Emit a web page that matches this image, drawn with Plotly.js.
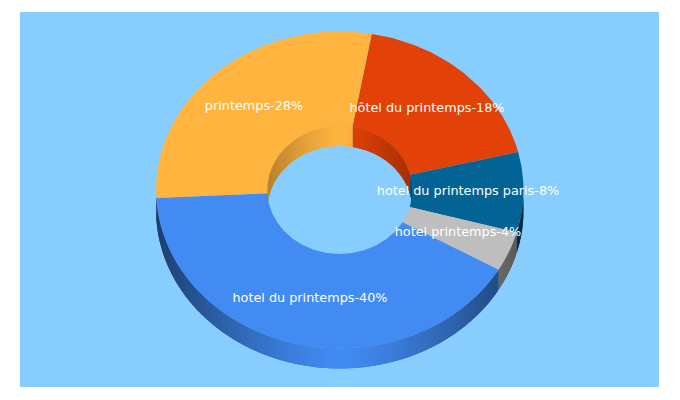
<!DOCTYPE html>
<html>
<head>
<meta charset="utf-8">
<script src="https://cdn.plot.ly/plotly-3.0.1.min.js"></script>
<style>html,body{margin:0;padding:0;background:#fff}#c{width:680px;height:400px}</style>
</head>
<body>
<div id="c"></div>
<script>
// Data
const categories = ["hôtel du printemps", "hotel du printemps paris", "hotel printemps", "hotel du printemps", "printemps"];
const shares = [18, 8, 4, 40, 28];
// Styles
const colors = ["#E24207", "#036394", "#BEBEBE", "#418BF3", "#FEB43F"];
const labelX = [427, 468, 458, 310, 254];
const labelY = [109, 192, 233, 299, 107];

// Geometry of the 3D donut in plot units (axes are 1:1 with the page)
const cx = 339.8, cy = 190, rx = 183.7, ry = 158.5, hrx = 72.5, hry = 64, depth = 20, startDeg = 10;
const total = shares.reduce((a, b) => a + b, 0);

const pt = (deg, a, b, dz) => {
  const t = deg * Math.PI / 180;
  return [cx + a * Math.sin(t), cy - b * Math.cos(t) + (dz || 0)];
};
const shade = (hex, f) => {
  const n = parseInt(hex.slice(1), 16);
  const c = [n >> 16, (n >> 8) & 255, n & 255].map(v => Math.round(v * f));
  return `rgb(${c[0]},${c[1]},${c[2]})`;
};
const poly = (pts, color) => ({
  type: "scatter", mode: "lines", x: pts.map(p => p[0]).concat(pts[0][0]), y: pts.map(p => p[1]).concat(pts[0][1]),
  fill: "toself", fillcolor: color, line: { width: 0 }, hoverinfo: "skip", showlegend: false
});

const spans = [];
let acc = startDeg;
shares.forEach((v, i) => { const d = v / total * 360; spans.push([acc, acc + d, colors[i]]); acc += d; });

const STEP = 1;
const OVERLAP = 1.5;
const inner = [], outer = [];
spans.forEach(([a0, a1, col]) => {
  for (let s = Math.floor(a0); s < a1; s += STEP) {
    const lo = Math.max(s, a0), hi = Math.min(s + STEP, a1), end = Math.min(hi + OVERLAP, a1);
    if (hi <= lo) continue;
    const mid = (lo + hi) / 2, nm = ((mid % 360) + 360) % 360;
    const u = Math.abs(Math.sin(mid * Math.PI / 180));
    if (nm < 90 || nm > 270) {
      const f = 1 - 0.28 * Math.pow(u, 1.3);
      inner.push(poly([pt(lo, hrx, hry), pt(hi, hrx, hry), pt(end, hrx, hry), pt(end, hrx, hry, depth), pt(hi, hrx, hry, depth), pt(lo, hrx, hry, depth)], shade(col, f)));
    } else {
      const f = 1 - 0.55 * Math.pow(u, 1.3);
      outer.push(poly([pt(lo, rx, ry), pt(hi, rx, ry), pt(end, rx, ry), pt(end, rx, ry, depth), pt(hi, rx, ry, depth), pt(lo, rx, ry, depth)], shade(col, f)));
    }
  }
});
const traces = inner.concat(outer);
// top faces
spans.forEach(([a0, a1, col]) => {
  const pts = [];
  const n = Math.ceil(a1 - a0);
  for (let k = 0; k <= n; k++) pts.push(pt(a0 + (a1 - a0) * k / n, rx, ry));
  for (let k = n; k >= 0; k--) pts.push(pt(a0 + (a1 - a0) * k / n, hrx, hry));
  traces.push(poly(pts, col));
});
// labels
traces.push({
  type: "scatter", mode: "text", x: labelX, y: labelY,
  text: categories.map((c, i) => c + "-" + shares[i] + "%"),
  textposition: "middle center",
  textfont: { family: "DejaVu Sans, sans-serif", size: 12.8, color: "#ffffff" },
  hoverinfo: "skip", showlegend: false, cliponaxis: false
});

const layout = {
  width: 680, height: 400,
  margin: { l: 20, r: 21, t: 12, b: 13, pad: 0, autoexpand: false },
  paper_bgcolor: "#ffffff", plot_bgcolor: "#87CDFD",
  showlegend: false, hovermode: false,
  xaxis: { range: [20, 659], visible: false, fixedrange: true },
  yaxis: { range: [387, 12], visible: false, fixedrange: true }
};
Plotly.newPlot("c", traces, layout, { displayModeBar: false, staticPlot: true });
</script>
</body>
</html>
